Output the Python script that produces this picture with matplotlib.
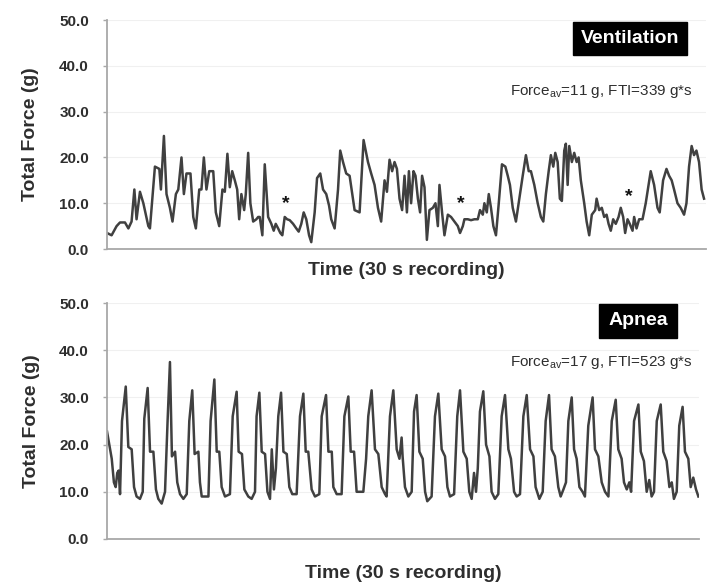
import matplotlib
matplotlib.use('Agg')
import matplotlib.pyplot as plt

plt.rcParams['font.family'] = ['Liberation Sans', 'DejaVu Sans']
plt.rcParams['mathtext.fontset'] = 'custom'
plt.rcParams['mathtext.rm'] = 'Liberation Sans'

# Ventilation trace (time in s, force in g)
vent_t = [0.0, 0.23, 0.48, 0.65, 0.9, 1.07, 1.23, 1.37, 1.48, 1.65, 1.82, 2.07, 2.15, 2.4, 2.62,
          2.7, 2.85, 2.98, 3.15, 3.28, 3.45, 3.57, 3.73, 3.85, 3.98, 4.18, 4.32, 4.45, 4.62, 4.73,
          4.85, 4.98, 5.12, 5.32, 5.45, 5.62, 5.78, 5.9, 6.03, 6.15, 6.27, 6.4, 6.52, 6.62, 6.73,
          6.87, 6.95, 7.07, 7.18, 7.32, 7.48, 7.57, 7.65, 7.78, 7.9, 8.07, 8.23, 8.35, 8.45, 8.57,
          8.68, 8.78, 8.9, 9.02, 9.15, 9.32, 9.48, 9.6, 9.73, 9.85, 9.98, 10.12, 10.23, 10.4, 10.52,
          10.68, 10.82, 10.98, 11.12, 11.23, 11.4, 11.57, 11.68, 11.82, 11.98, 12.15, 12.4, 12.65,
          12.85, 13.07, 13.23, 13.4, 13.57, 13.73, 13.9, 14.02, 14.15, 14.28, 14.4, 14.52, 14.65,
          14.78, 14.9, 15.02, 15.12, 15.23, 15.35, 15.45, 15.57, 15.68, 15.78, 15.9, 16.02, 16.15,
          16.32, 16.45, 16.57, 16.65, 16.78, 16.9, 17.07, 17.23, 17.4, 17.57, 17.68, 17.82, 17.9,
          18.07, 18.23, 18.4, 18.57, 18.68, 18.82, 18.9, 19.02, 19.12, 19.23, 19.35, 19.48, 19.62,
          19.78, 19.95, 20.07, 20.18, 20.32, 20.48, 20.65, 20.82, 20.98, 21.12, 21.23, 21.4, 21.57,
          21.73, 21.85, 21.98, 22.12, 22.23, 22.35, 22.45, 22.57, 22.68, 22.78, 22.9, 22.98, 23.07,
          23.15, 23.28, 23.4, 23.52, 23.62, 23.73, 23.9, 24.02, 24.15, 24.28, 24.45, 24.52, 24.65,
          24.78, 24.9, 25.02, 25.12, 25.23, 25.35, 25.48, 25.62, 25.73, 25.85, 25.95, 26.07, 26.18,
          26.32, 26.4, 26.52, 26.65, 26.82, 26.98, 27.23, 27.4, 27.57, 27.68, 27.85, 28.02, 28.15,
          28.28, 28.4, 28.57, 28.73, 28.9, 29.02, 29.15, 29.28, 29.4, 29.52, 29.65, 29.78, 29.9]
vent_f = [3.5, 3.0, 5.0, 5.8, 5.8, 4.5, 6.0, 13.0, 6.5, 12.5, 10.0, 5.0, 4.5, 18.0, 17.5,
          13.0, 24.7, 12.0, 9.0, 6.0, 12.0, 13.0, 20.0, 12.0, 16.5, 16.5, 7.0, 4.5, 13.0, 13.0,
          20.0, 13.0, 17.0, 17.0, 8.0, 5.0, 13.0, 12.5, 20.8, 13.5, 17.0, 15.0, 13.0, 6.5, 12.0,
          8.5, 12.0, 21.0, 10.0, 6.0, 6.5, 7.0, 7.0, 3.0, 18.5, 7.0, 5.5, 4.0, 5.5, 4.5,
          3.5, 3.0, 7.0, 6.5, 6.3, 5.5, 4.5, 3.8, 5.5, 8.0, 6.5, 3.0, 1.5, 8.0, 15.5,
          16.5, 13.0, 12.0, 9.5, 6.5, 4.5, 13.0, 21.5, 19.0, 16.5, 16.0, 8.5, 8.0,
          23.8, 19.0, 16.5, 14.0, 9.0, 6.0, 15.0, 12.5, 19.5, 17.0, 19.0, 17.5, 11.0,
          8.5, 16.0, 8.0, 17.0, 10.0, 17.0, 16.0, 11.0, 8.0, 16.0, 13.5, 2.0, 8.5,
          9.0, 10.0, 5.0, 14.0, 8.0, 3.0, 7.5, 7.0, 6.0, 5.0, 3.5, 5.0, 6.5,
          6.5, 6.3, 6.5, 6.5, 8.5, 7.5, 10.0, 8.0, 12.0, 9.0, 5.0, 3.0, 10.0,
          18.5, 18.0, 16.0, 14.0, 9.0, 6.0, 11.0, 16.0, 20.5, 17.0, 17.0, 14.0, 10.0,
          7.0, 6.0, 12.0, 17.0, 20.5, 18.0, 21.0, 19.0, 11.0, 10.5, 21.5, 23.0, 14.0,
          22.5, 19.0, 21.0, 19.0, 20.0, 15.0, 10.0, 6.0, 3.0, 7.5, 8.5, 11.0, 8.5,
          9.0, 7.0, 7.5, 5.5, 4.0, 6.5, 5.5, 7.0, 9.0, 7.0, 3.5, 6.5, 5.5,
          4.0, 7.0, 4.5, 6.5, 6.5, 10.0, 17.0, 14.0, 9.0, 8.0, 15.0, 17.5, 16.0,
          15.0, 13.0, 10.0, 9.0, 7.5, 10.0, 18.0, 22.5, 20.5, 21.5, 19.0, 13.0, 11.0]

# Asterisks marking pauses
star_t = [8.95, 17.73, 26.15]
star_f = [9.9, 9.9, 11.5]

# Apnea trace
apnea_t = [0.0, 0.24, 0.35, 0.44, 0.52, 0.59, 0.66, 0.76, 0.95, 1.08, 1.25, 1.37, 1.5, 1.67,
           1.81, 1.89, 2.06, 2.18, 2.35, 2.48, 2.6, 2.77, 2.94, 3.07, 3.19, 3.29, 3.45, 3.56,
           3.7, 3.87, 4.04, 4.17, 4.32, 4.44, 4.63, 4.71, 4.8, 5.14, 5.25, 5.44, 5.56, 5.69,
           5.81, 5.98, 6.23, 6.37, 6.57, 6.67, 6.84, 6.96, 7.16, 7.33, 7.5, 7.58, 7.72, 7.84,
           8.01, 8.13, 8.26, 8.35, 8.46, 8.56, 8.68, 8.82, 8.94, 9.11, 9.24, 9.39, 9.61, 9.78,
           9.95, 10.07, 10.2, 10.37, 10.54, 10.76, 10.88, 11.1, 11.22, 11.39, 11.47, 11.64,
           11.89, 12.03, 12.23, 12.35, 12.52, 12.65, 12.99, 13.13, 13.24, 13.41, 13.58, 13.75,
           13.92, 14.09, 14.17, 14.34, 14.51, 14.68, 14.82, 14.93, 14.98, 15.1, 15.27, 15.44,
           15.56, 15.69, 15.83, 16.0, 16.12, 16.23, 16.45, 16.62, 16.79, 16.96, 17.13, 17.25,
           17.38, 17.59, 17.75, 17.89, 18.06, 18.23, 18.36, 18.48, 18.6, 18.7, 18.79, 18.9,
           19.07, 19.21, 19.38, 19.49, 19.66, 19.83, 20.0, 20.17, 20.34, 20.47, 20.63, 20.76,
           20.93, 21.1, 21.27, 21.44, 21.61, 21.72, 21.91, 22.08, 22.23, 22.4, 22.53, 22.7,
           22.87, 22.99, 23.13, 23.26, 23.38, 23.55, 23.67, 23.8, 23.94, 24.1, 24.22, 24.39,
           24.61, 24.73, 24.9, 25.07, 25.24, 25.41, 25.58, 25.78, 25.91, 26.08, 26.2, 26.34,
           26.47, 26.56, 26.71, 26.93, 27.05, 27.21, 27.35, 27.48, 27.6, 27.72, 27.86, 28.06,
           28.19, 28.36, 28.5, 28.62, 28.73, 28.87, 29.0, 29.17, 29.29, 29.46, 29.58, 29.71,
           29.85, 29.97]
apnea_f = [22.8, 17.0, 12.0, 11.0, 14.0, 14.5, 9.5, 25.0, 32.3, 19.5, 19.0, 11.0, 9.0, 8.5,
           10.0, 25.5, 32.0, 18.5, 18.5, 10.5, 8.5, 7.5, 10.0, 25.0, 37.5, 17.5, 18.5, 12.0,
           9.5, 8.5, 9.5, 25.0, 31.5, 18.0, 18.5, 12.0, 9.0, 9.0, 25.0, 33.8, 18.5, 18.5,
           11.0, 9.0, 9.5, 26.0, 31.2, 18.5, 18.0, 10.5, 9.0, 8.5, 10.0, 26.0, 31.0, 18.5,
           18.0, 10.0, 8.5, 19.0, 10.5, 15.0, 26.0, 31.0, 18.5, 18.0, 11.0, 9.5, 9.5, 26.0,
           30.8, 18.5, 18.5, 10.5, 9.0, 9.5, 26.0, 30.5, 18.5, 18.5, 11.0, 9.5,
           9.5, 26.0, 30.2, 18.5, 18.5, 10.0, 10.0, 17.0, 26.0, 31.5, 19.0, 18.0,
           11.0, 9.5, 9.0, 26.0, 31.5, 19.0, 17.0, 21.5, 17.5, 11.0, 9.0, 10.0,
           27.0, 30.5, 18.5, 17.0, 10.0, 8.0, 9.0, 26.0, 30.8, 19.0, 17.5, 11.0,
           9.0, 9.5, 26.0, 31.5, 18.5, 17.0, 10.0, 8.5, 14.0, 10.0, 15.0, 27.0,
           31.3, 20.0, 17.5, 10.0, 8.5, 9.5, 26.0, 30.5, 19.0, 17.0, 10.0, 9.0,
           9.5, 26.0, 30.5, 19.0, 17.5, 11.0, 8.5, 10.0, 25.0, 30.5, 19.0, 17.5,
           11.0, 9.0, 10.5, 12.0, 25.0, 30.0, 19.0, 17.0, 11.0, 10.0, 9.0, 24.0,
           30.0, 19.0, 17.5, 12.0, 10.0, 9.0, 25.0, 29.5, 19.0, 17.0, 12.0, 10.5,
           12.0, 10.0, 25.0, 28.5, 18.5, 16.5, 10.0, 12.5, 9.0, 10.0, 25.0, 28.5,
           18.5, 16.5, 11.0, 12.0, 8.5, 10.0, 24.0, 28.0, 18.5, 17.0, 11.0, 13.0,
           10.5, 9.0]

y_ticks = [0, 10, 20, 30, 40, 50]
y_tick_labels = ['0.0', '10.0', '20.0', '30.0', '40.0', '50.0']

line_color = '#404040'
axis_color = '#a8a8a8'
text_color = '#2e2e2e'

fig = plt.figure(figsize=(7.11, 5.84), dpi=100)
ax_top = fig.add_axes([0.1505, 0.5736, 0.8425, 0.392])
ax_bot = fig.add_axes([0.1505, 0.0771, 0.8326, 0.404])


def style_axis(ax, xlabel_y):
    ax.set_xlim(0, 30)
    ax.set_ylim(0, 50)
    ax.set_yticks(y_ticks)
    ax.set_yticklabels(y_tick_labels, fontsize=11, fontweight='bold', color=text_color)
    ax.set_xticks([])
    for s in ['top', 'right']:
        ax.spines[s].set_visible(False)
    for s in ['left', 'bottom']:
        ax.spines[s].set_color(axis_color)
        ax.spines[s].set_linewidth(1.3)
    ax.tick_params(axis='y', length=3, width=1, color=axis_color, pad=10)
    ax.grid(axis='y', color='#f0f0f0', linewidth=0.8)
    ax.set_axisbelow(True)
    ax.set_ylabel('Total Force (g)', fontsize=14, fontweight='bold', color=text_color)
    ax.yaxis.set_label_coords(-0.128, 0.5)
    ax.yaxis.label.set_va('center')
    ax.set_xlabel('Time (30 s recording)', fontsize=14, fontweight='bold', color=text_color)
    ax.xaxis.set_label_coords(0.5, xlabel_y)
    ax.xaxis.label.set_va('center')


style_axis(ax_top, -0.095)
ax_top.plot(vent_t, vent_f, color=line_color, linewidth=1.8)
for t, f in zip(star_t, star_f):
    ax_top.text(t, f, '*', fontsize=14, fontweight='bold', ha='center', va='center', color='#111111')
ax_top.text(0.873, 0.921, 'Ventilation', transform=ax_top.transAxes, ha='center', va='center',
            fontsize=14, fontweight='bold', color='white',
            bbox=dict(boxstyle='square,pad=0.42', facecolor='black', edgecolor='black'))
ax_top.text(0.978, 0.686, r'Force$_{\mathregular{av}}$=11 g, FTI=339 g*s', transform=ax_top.transAxes,
            ha='right', va='center', fontsize=11, color=text_color)

style_axis(ax_bot, -0.147)
ax_bot.plot(apnea_t, apnea_f, color=line_color, linewidth=1.8)
ax_bot.text(0.897, 0.924, 'Apnea', transform=ax_bot.transAxes, ha='center', va='center',
            fontsize=14, fontweight='bold', color='white',
            bbox=dict(boxstyle='square,pad=0.45', facecolor='black', edgecolor='black'))
ax_bot.text(0.99, 0.75, r'Force$_{\mathregular{av}}$=17 g, FTI=523 g*s', transform=ax_bot.transAxes,
            ha='right', va='center', fontsize=11, color=text_color)

fig.savefig('out.png', dpi=100)
